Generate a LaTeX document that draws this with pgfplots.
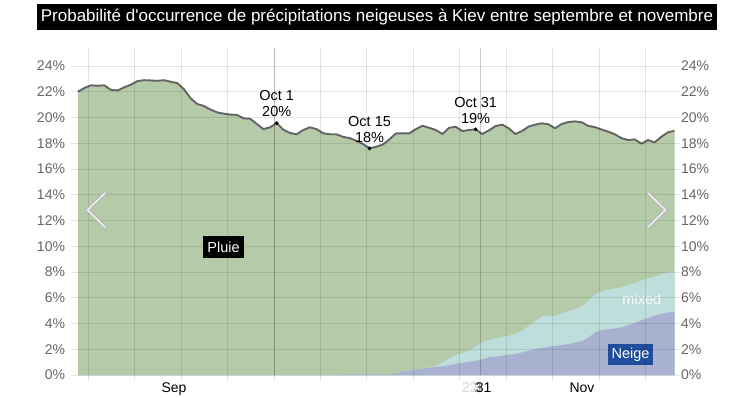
\documentclass[border=0pt]{standalone}
\usepackage{fontspec}
\setmainfont{Liberation Sans}[Ligatures=TeXOff]
\usepackage{pgfplots}
\usepackage{pgfplotstable}
\pgfplotsset{compat=1.18}
\definecolor{rainc}{RGB}{180,202,169}
\definecolor{mixc}{RGB}{190,222,219}
\definecolor{snowc}{RGB}{168,178,208}
\definecolor{linec}{RGB}{100,100,100}
\definecolor{neigec}{RGB}{32,78,156}
\definecolor{tickc}{RGB}{102,102,102}
\pgfplotstableread{
n tot mix snow
1 22.0 0 0
2 22.3 0 0
3 22.5 0 0
4 22.47 0 0
5 22.5 0 0
6 22.15 0 0
7 22.1 0 0
8 22.35 0 0
9 22.55 0 0
10 22.83 0 0
11 22.9 0 0
12 22.88 0 0
13 22.85 0 0
14 22.9 0 0
15 22.78 0 0
16 22.68 0 0
17 22.2 0 0
18 21.5 0 0
19 21.05 0 0
20 20.9 0 0
21 20.62 0 0
22 20.4 0 0
23 20.3 0 0
24 20.23 0 0
25 20.2 0 0
26 19.94 0 0
27 19.9 0 0
28 19.5 0 0
29 19.1 0 0
30 19.24 0 0
31 19.57 0 0
32 19.05 0 0
33 18.8 0 0
34 18.7 0 0
35 19.03 0 0
36 19.24 0 0
37 19.1 0 0
38 18.78 0 0
39 18.7 0 0
40 18.7 0 0
41 18.5 0.03 0.03
42 18.4 0.05 0.05
43 18.2 0.05 0.05
44 17.95 0.05 0.05
45 17.6 0.05 0.05
46 17.73 0.05 0.05
47 17.9 0.05 0.05
48 18.3 0.05 0.05
49 18.77 0.1 0.1
50 18.77 0.28 0.28
51 18.77 0.35 0.35
52 19.1 0.42 0.42
53 19.36 0.52 0.5
54 19.2 0.6 0.56
55 19.03 0.75 0.64
56 18.72 0.98 0.68
57 19.2 1.28 0.75
58 19.28 1.55 0.88
59 18.95 1.72 0.95
60 19.03 1.9 1.02
61 19.08 2.2 1.1
62 18.72 2.52 1.22
63 19.0 2.7 1.38
64 19.33 2.85 1.42
65 19.45 2.95 1.5
66 19.16 3.05 1.58
67 18.72 3.18 1.62
68 18.95 3.45 1.75
69 19.3 3.8 1.9
70 19.45 4.2 2.02
71 19.55 4.58 2.1
72 19.47 4.6 2.2
73 19.16 4.6 2.26
74 19.5 4.78 2.33
75 19.65 4.98 2.4
76 19.7 5.12 2.52
77 19.63 5.3 2.62
78 19.35 5.8 2.9
79 19.25 6.25 3.3
80 19.07 6.5 3.48
81 18.9 6.62 3.56
82 18.7 6.72 3.62
83 18.4 6.84 3.7
84 18.25 7.0 3.88
85 18.3 7.15 4.04
86 17.97 7.35 4.25
87 18.25 7.52 4.43
88 18.07 7.65 4.6
89 18.5 7.78 4.76
90 18.85 8.02 4.85
91 18.97 8.05 4.92
}\data
\begin{document}
\begin{tikzpicture}
\useasboundingbox (0,0) rectangle (753pt,397pt);
\fill[white] (0,0) rectangle (753pt,397pt);
\pgfplotsset{
  base/.style={
    at={(71.2pt,22pt)}, anchor=south west,
    scale only axis, width=608.6pt, height=327pt,
    xmin=0, xmax=91.8, ymin=0, ymax=25.4,
    ytick={0,2,...,24},
    yticklabel={\pgfmathparse{int(\tick)}\pgfmathresult\%},
    yticklabel style={font=\fontsize{14pt}{16pt}\selectfont, text=tickc, inner sep=1pt},
    axis line style={draw=none},
  }
}
\begin{axis}[base,
  axis on top,
  xtick={2.6,9.6,...,86.6},
  xticklabels={},
  extra x ticks={30.6,61.66},
  extra x tick labels={},
  extra x tick style={grid style={black, opacity=0.2, line width=0.8pt}, x tick style={draw=none}},
  grid=both,
  grid style={black, opacity=0.1, line width=0.8pt},
  x tick style={black, opacity=0.12, line width=0.8pt},
  y tick style={draw=none},
  tick align=outside,
  xtick pos=bottom,
  ytick pos=left,
  major tick length=5pt,
  clip=false,
]
\addplot[fill=rainc, draw=none] table[x=n, y=tot] {\data} \closedcycle;
\addplot[fill=mixc, draw=none] table[x=n, y=mix] {\data} \closedcycle;
\addplot[fill=snowc, draw=none] table[x=n, y=snow] {\data} \closedcycle;
\addplot[linec, line width=1.9pt, line join=round] table[x=n, y=tot] {\data};
\addplot[only marks, mark=*, mark size=1.7pt, black] coordinates {(31,19.57) (45,17.6) (61,19.08)};
\node[anchor=south, align=center, font=\fontsize{14.5pt}{16pt}\selectfont, inner sep=0pt, yshift=6pt] at (axis cs:31,19.57) {Oct 1\\20\%};
\node[anchor=south, align=center, font=\fontsize{14.5pt}{16pt}\selectfont, inner sep=0pt, yshift=6pt] at (axis cs:45,17.6) {Oct 15\\18\%};
\node[anchor=south, align=center, font=\fontsize{14.5pt}{16pt}\selectfont, inner sep=0pt, yshift=6pt] at (axis cs:61,19.08) {Oct 31\\19\%};
\node[fill=black, text=white, font=\fontsize{14.5pt}{16pt}\selectfont, inner xsep=4pt, inner ysep=0pt, minimum height=22pt] at (axis cs:22.97,9.94) {Pluie};
\node[text=white, font=\fontsize{14.5pt}{16pt}\selectfont, opacity=0.92] at (axis cs:86.07,5.9) {mixed};
\node[fill=neigec, text=white, font=\fontsize{14.5pt}{16pt}\selectfont, inner xsep=4pt, inner ysep=0pt, minimum height=21pt] at (axis cs:84.36,1.59) {Neige};
\node[anchor=base, font=\fontsize{14pt}{16pt}\selectfont, yshift=-17pt] at (axis cs:15.5,0) {Sep};
\node[anchor=base, font=\fontsize{14pt}{16pt}\selectfont, yshift=-17pt] at (axis cs:77.05,0) {Nov};
\node[anchor=base, font=\fontsize{14pt}{16pt}\selectfont, yshift=-17pt, text=black!15, xshift=-14pt] at (axis cs:62.2,0) {22};
\node[anchor=base, font=\fontsize{14pt}{16pt}\selectfont, yshift=-17pt, text=black!40, xshift=-6pt] at (axis cs:62.2,0) {3};
\node[anchor=base, font=\fontsize{14pt}{16pt}\selectfont, yshift=-17pt] at (axis cs:62.2,0) {31};
\end{axis}
\begin{axis}[base,
  hide x axis,
  ytick pos=right,
  yticklabel pos=right,
  y tick style={draw=none},
]
\end{axis}
\draw[draw=gray!60, double=gray!15, double distance=1.8pt, line width=0.8pt, line cap=round, line join=round]
  (105pt,204pt) -- (87.5pt,187pt) -- (105pt,170pt);
\draw[draw=gray!60, double=gray!15, double distance=1.8pt, line width=0.8pt, line cap=round, line join=round]
  (648pt,204pt) -- (665.5pt,187pt) -- (648pt,170pt);
\node[fill=black, text=white, font=\fontsize{17pt}{19pt}\selectfont, inner xsep=4pt, inner ysep=0pt, minimum height=26pt] at (377pt,380pt) {Probabilité d'occurrence de précipitations neigeuses à Kiev entre septembre et novembre};
\end{tikzpicture}
\end{document}
